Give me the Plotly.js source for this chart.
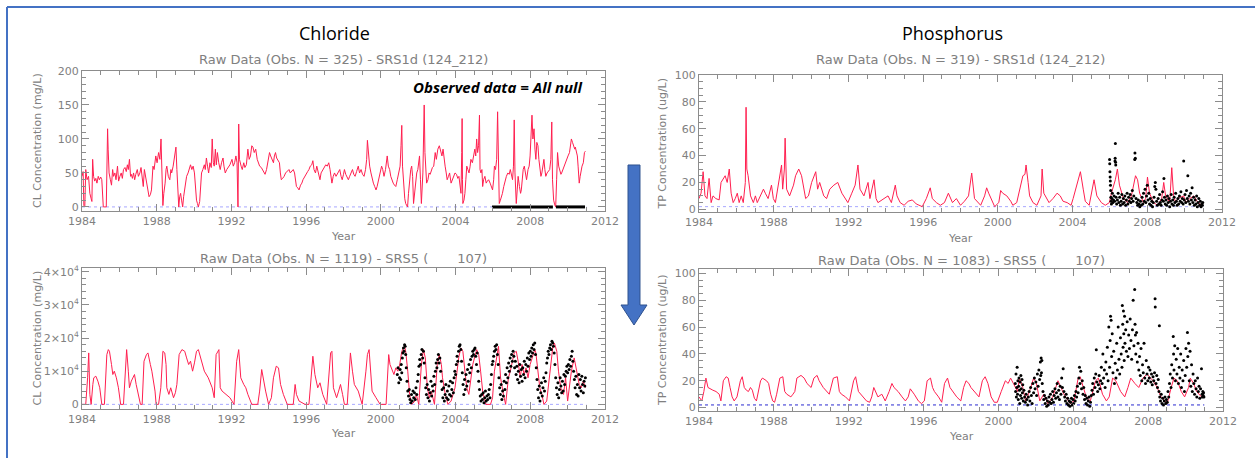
<!DOCTYPE html>
<html>
<head>
<meta charset="utf-8">
<script src="https://cdn.plot.ly/plotly-3.0.1.min.js"></script>
<style>html,body{margin:0;padding:0;background:#fff;}#chart{width:1255px;height:458px;}</style>
</head>
<body>
<div id="chart"></div>
<script>
// ---------------- DATA ----------------
const yearTicks = [1984, 1988, 1992, 1996, 2000, 2004, 2008, 2012];
const clSrs5TickVals = [0, 10000, 20000, 30000, 40000];
const clSrs5TickText = ['0', '1×10<sup>4</sup>', '2×10<sup>4</sup>', '3×10<sup>4</sup>', '4×10<sup>4</sup>'];
const refLineYears = [1984, 2011];
const clDetectLimit = 0;
const tpDetectLimit = 2;

const panelTitles = ['Chloride', 'Phosphorus'];
const subTitles = [
  'Raw Data (Obs. N = 325) - SRS1d (124_212)',
  'Raw Data (Obs. N = 1119) - SRS5 (\u00a0\u00a0\u00a0\u00a0\u00a0\u00a0\u00a0107)',
  'Raw Data (Obs. N = 319) - SRS1d (124_212)',
  'Raw Data (Obs. N = 1083) - SRS5 (\u00a0\u00a0\u00a0\u00a0\u00a0\u00a0\u00a0107)'
];
const yTitles = ['CL Concentration (mg/L)', 'TP Concentration (ug/L)'];
const xTitle = 'Year';
const nullNote = 'Observed data = All null';

// Chloride SRS1d simulated (red) [year, mg/L]
const clSrs1dSim = [
[1984.00,45],[1984.06,52],[1984.10,2],[1984.15,0],[1984.20,55],[1984.27,40],[1984.35,45],[1984.42,20],[1984.49,12],[1984.53,8],
[1984.57,70],[1984.62,45],[1984.68,38],[1984.74,42],[1984.80,35],[1984.87,45],[1984.93,40],[1985.00,44],[1985.06,40],[1985.10,5],
[1985.14,0],[1985.30,0],[1985.35,80],[1985.37,115],[1985.40,85],[1985.45,50],[1985.52,40],[1985.58,32],[1985.64,55],[1985.69,45],
[1985.76,50],[1985.82,40],[1985.90,60],[1985.96,38],[1986.03,45],[1986.10,50],[1986.16,42],[1986.22,55],[1986.30,58],[1986.37,52],
[1986.43,62],[1986.48,55],[1986.54,70],[1986.60,45],[1986.64,48],[1986.70,42],[1986.76,50],[1986.82,40],[1986.88,48],[1986.96,55],
[1987.02,45],[1987.10,50],[1987.16,58],[1987.22,45],[1987.28,30],[1987.34,55],[1987.40,45],[1987.46,35],[1987.49,25],[1987.55,20],
[1987.59,15],[1987.66,18],[1987.72,25],[1987.80,60],[1987.86,55],[1987.95,75],[1988.02,65],[1988.10,80],[1988.17,70],[1988.23,100],
[1988.28,40],[1988.33,2],[1988.38,20],[1988.45,35],[1988.50,55],[1988.54,60],[1988.62,45],[1988.70,40],[1988.76,55],[1988.80,50],
[1988.88,60],[1988.97,75],[1989.03,88],[1989.08,55],[1989.13,30],[1989.18,0],[1989.23,15],[1989.28,20],[1989.33,10],[1989.39,0],
[1989.44,15],[1989.49,25],[1989.55,35],[1989.60,45],[1989.68,50],[1989.75,58],[1989.81,62],[1989.88,55],[1989.95,60],[1990.02,50],
[1990.07,30],[1990.13,10],[1990.18,5],[1990.23,0],[1990.30,8],[1990.35,30],[1990.40,50],[1990.47,55],[1990.55,62],[1990.60,55],
[1990.66,72],[1990.72,60],[1990.78,50],[1990.85,65],[1990.92,58],[1990.97,100],[1991.03,65],[1991.08,60],[1991.14,85],[1991.19,62],
[1991.25,80],[1991.32,65],[1991.40,55],[1991.47,65],[1991.55,72],[1991.60,60],[1991.67,50],[1991.75,55],[1991.83,58],[1991.92,62],
[1992.03,70],[1992.10,60],[1992.17,65],[1992.24,75],[1992.30,65],[1992.35,0],[1992.39,122],[1992.43,70],[1992.52,60],[1992.58,55],
[1992.66,65],[1992.72,58],[1992.80,62],[1992.88,85],[1992.95,70],[1993.02,75],[1993.09,90],[1993.15,88],[1993.22,80],[1993.30,85],
[1993.38,70],[1993.45,65],[1993.51,60],[1993.60,58],[1993.66,55],[1993.72,50],[1993.80,48],[1993.88,55],[1993.96,65],[1994.04,80],
[1994.10,75],[1994.18,70],[1994.25,65],[1994.30,75],[1994.36,80],[1994.42,72],[1994.50,68],[1994.57,65],[1994.62,50],[1994.67,40],
[1994.74,42],[1994.82,45],[1994.90,50],[1994.99,52],[1995.08,55],[1995.15,50],[1995.22,52],[1995.31,55],[1995.38,50],[1995.43,40],
[1995.48,30],[1995.55,28],[1995.62,25],[1995.70,32],[1995.77,35],[1995.83,40],[1995.92,45],[1996.00,48],[1996.08,52],[1996.15,55],
[1996.22,60],[1996.30,62],[1996.36,68],[1996.42,55],[1996.50,50],[1996.57,60],[1996.63,52],[1996.70,45],[1996.74,40],[1996.80,50],
[1996.89,55],[1996.97,58],[1997.05,62],[1997.13,60],[1997.21,65],[1997.28,55],[1997.33,45],[1997.38,35],[1997.45,45],[1997.52,50],
[1997.60,45],[1997.67,48],[1997.74,52],[1997.80,55],[1997.87,45],[1997.93,40],[1998.00,48],[1998.05,55],[1998.12,48],[1998.20,42],
[1998.26,40],[1998.33,45],[1998.40,50],[1998.48,55],[1998.55,48],[1998.62,45],[1998.70,52],[1998.79,60],[1998.86,50],[1998.94,55],
[1999.02,48],[1999.10,45],[1999.18,55],[1999.24,70],[1999.28,98],[1999.33,75],[1999.40,60],[1999.47,50],[1999.53,40],[1999.60,35],
[1999.67,30],[1999.74,25],[1999.80,30],[1999.88,40],[1999.96,50],[2000.04,60],[2000.10,55],[2000.17,45],[2000.25,55],[2000.30,65],
[2000.34,75],[2000.40,60],[2000.47,55],[2000.53,45],[2000.59,40],[2000.66,35],[2000.73,32],[2000.80,30],[2000.88,40],[2000.95,50],
[2001.03,60],[2001.08,90],[2001.12,120],[2001.16,60],[2001.22,30],[2001.28,12],[2001.33,5],[2001.38,2],[2001.43,0],[2001.48,20],
[2001.54,40],[2001.60,55],[2001.65,60],[2001.70,45],[2001.75,5],[2001.80,20],[2001.86,40],[2001.92,50],[2001.98,55],[2002.04,65],
[2002.07,75],[2002.12,40],[2002.17,5],[2002.25,50],[2002.30,100],[2002.32,150],[2002.36,80],[2002.45,35],[2002.52,40],[2002.58,50],
[2002.64,48],[2002.70,55],[2002.76,58],[2002.83,60],[2002.91,80],[2002.97,70],[2003.05,85],[2003.13,90],[2003.20,80],[2003.27,75],
[2003.33,85],[2003.38,70],[2003.44,60],[2003.50,50],[2003.55,40],[2003.62,45],[2003.68,50],[2003.76,35],[2003.83,40],[2003.90,45],
[2003.97,50],[2004.05,48],[2004.12,42],[2004.18,45],[2004.24,30],[2004.29,20],[2004.33,80],[2004.35,130],[2004.37,40],[2004.39,5],
[2004.45,10],[2004.50,20],[2004.55,40],[2004.60,60],[2004.66,55],[2004.72,50],[2004.78,60],[2004.82,70],[2004.90,65],[2004.97,75],
[2005.03,85],[2005.08,75],[2005.13,100],[2005.18,80],[2005.23,90],[2005.28,135],[2005.31,55],[2005.36,50],[2005.41,55],[2005.45,30],
[2005.50,40],[2005.57,45],[2005.64,35],[2005.70,38],[2005.77,40],[2005.85,35],[2005.92,30],[2005.98,25],[2006.04,40],[2006.08,60],
[2006.14,55],[2006.20,70],[2006.25,140],[2006.29,60],[2006.32,20],[2006.34,5],[2006.40,10],[2006.46,15],[2006.51,20],[2006.58,30],
[2006.65,40],[2006.72,45],[2006.80,50],[2006.87,48],[2006.93,55],[2007.00,45],[2007.05,40],[2007.10,60],[2007.14,128],[2007.18,50],
[2007.22,15],[2007.25,5],[2007.30,25],[2007.35,45],[2007.42,30],[2007.48,20],[2007.52,25],[2007.56,45],[2007.62,55],[2007.68,60],
[2007.74,45],[2007.80,40],[2007.88,55],[2007.94,60],[2007.99,75],[2008.04,110],[2008.09,135],[2008.14,100],[2008.20,115],[2008.25,85],
[2008.30,70],[2008.35,95],[2008.41,90],[2008.46,70],[2008.51,55],[2008.57,45],[2008.62,50],[2008.68,60],[2008.73,70],[2008.78,55],
[2008.83,45],[2008.90,50],[2008.97,52],[2009.04,55],[2009.10,70],[2009.15,125],[2009.19,40],[2009.25,10],[2009.31,3],[2009.36,0],
[2009.41,40],[2009.46,80],[2009.52,60],[2009.58,55],[2009.64,48],[2009.68,50],[2009.74,55],[2009.80,60],[2009.89,65],[2009.95,70],
[2010.02,75],[2010.10,80],[2010.15,90],[2010.20,100],[2010.26,95],[2010.32,90],[2010.38,85],[2010.41,88],[2010.46,80],[2010.52,75],
[2010.56,60],[2010.59,45],[2010.62,35],[2010.67,45],[2010.72,55],[2010.77,60],[2010.84,65],[2010.90,80],[2010.95,82]
];
// Chloride SRS1d observed = null, plotted at zero: spans [start, end]
const clSrs1dNullStart = [2005.95, 2009.37];
const clSrs1dNullEnd = [2009.21, 2010.93];

// Chloride SRS5 simulated (red)
const clSrs5Sim = [
[1984.00,0],[1984.20,0],[1984.30,8000],[1984.36,15500],[1984.42,3000],[1984.49,0],[1984.58,6000],[1984.63,8000],[1984.74,8500],[1984.85,7000],
[1984.95,5000],[1985.06,0],[1985.20,0],[1985.28,8000],[1985.33,15000],[1985.41,16500],[1985.47,16000],[1985.58,12000],[1985.65,9000],[1985.73,10000],
[1985.84,8000],[1985.95,5000],[1986.07,0],[1986.22,0],[1986.30,9000],[1986.39,16500],[1986.48,10000],[1986.54,5000],[1986.64,7000],[1986.75,8500],
[1986.81,9000],[1986.90,6000],[1987.00,3000],[1987.13,0],[1987.22,0],[1987.32,13000],[1987.45,15000],[1987.53,15500],[1987.66,12000],[1987.74,10000],
[1987.91,4000],[1987.97,0],[1988.10,0],[1988.22,5000],[1988.33,16000],[1988.43,15500],[1988.50,12000],[1988.54,5000],[1988.65,3000],[1988.75,5000],
[1988.90,2000],[1989.00,3500],[1989.08,6000],[1989.20,15000],[1989.35,16500],[1989.50,16000],[1989.60,14000],[1989.71,12000],[1989.81,13000],[1989.92,10000],
[1990.02,12500],[1990.13,16000],[1990.23,16500],[1990.34,14000],[1990.45,12000],[1990.55,10000],[1990.76,8000],[1990.97,5000],[1991.08,2000],[1991.18,15000],
[1991.33,16500],[1991.40,5000],[1991.50,4000],[1991.71,3000],[1991.92,2000],[1992.14,0],[1992.28,13000],[1992.39,16500],[1992.50,8000],[1992.66,6000],
[1992.77,5000],[1992.88,3000],[1993.09,0],[1993.41,0],[1993.51,4000],[1993.62,10500],[1993.72,7000],[1993.83,4000],[1993.99,0],[1994.14,2000],
[1994.25,8000],[1994.40,11500],[1994.52,11000],[1994.63,6000],[1994.78,3000],[1994.99,0],[1995.31,0],[1995.41,6000],[1995.48,3000],[1995.62,1000],
[1995.94,0],[1996.15,0],[1996.36,14500],[1996.47,9000],[1996.62,5000],[1996.74,6500],[1996.89,3000],[1997.10,0],[1997.31,15500],[1997.38,16000],
[1997.46,5000],[1997.63,2000],[1997.74,4000],[1997.84,6000],[1997.95,3000],[1998.05,0],[1998.20,0],[1998.37,15500],[1998.48,10000],[1998.58,6000],
[1998.79,4000],[1999.00,0],[1999.20,10000],[1999.28,15000],[1999.37,16500],[1999.53,4000],[1999.74,2000],[1999.96,0],[2000.28,0],[2000.42,15000],
[2000.49,12000],[2000.59,10500],[2000.70,9000],[2000.80,11000],[2000.91,10000],[2001.01,12000],[2001.12,16000],[2001.27,17500],[2001.33,16000],[2001.44,10000],
[2001.54,3000],[2001.65,0],[2001.82,1000],[2001.90,3000],[2002.03,0],[2002.17,12000],[2002.28,16500],[2002.38,14000],[2002.49,5000],[2002.60,2000],
[2002.70,4000],[2002.87,0],[2003.02,12000],[2003.13,15000],[2003.24,12000],[2003.30,8000],[2003.45,3000],[2003.59,0],[2003.76,1000],[2003.97,5000],
[2004.07,10000],[2004.18,14500],[2004.29,17000],[2004.39,16000],[2004.50,10000],[2004.60,5000],[2004.71,3000],[2004.92,12000],[2005.13,16500],[2005.24,15000],
[2005.34,10000],[2005.45,4000],[2005.62,0],[2005.87,0],[2005.98,2000],[2006.08,10000],[2006.30,17500],[2006.34,14000],[2006.41,8000],[2006.56,3000],
[2006.68,0],[2006.83,8000],[2006.93,10000],[2007.14,15500],[2007.25,16000],[2007.35,13000],[2007.46,8000],[2007.56,12000],[2007.67,9000],[2007.77,11000],
[2007.88,8000],[2007.99,12000],[2008.15,15000],[2008.24,16500],[2008.30,15500],[2008.41,9000],[2008.51,5000],[2008.62,3000],[2008.73,0],[2008.88,1000],
[2009.04,10000],[2009.21,17500],[2009.29,18500],[2009.42,16000],[2009.51,10000],[2009.63,5000],[2009.78,3000],[2009.89,8000],[2010.00,1000],[2010.10,5000],
[2010.20,10000],[2010.35,14000],[2010.48,10000],[2010.56,8000],[2010.62,6000],[2010.73,5000],[2010.84,7000],[2010.95,5000]
];

// Chloride SRS5 observed (black)
const clSrs5Obs = [
[2000.88,9000],[2000.92,11000],[2000.96,6500],
[2001.00,8000],[2001.03,10500],[2001.06,7500],[2001.09,12000],[2001.12,9500],[2001.15,14000],[2001.18,15500],[2001.21,17000],[2001.24,16000],[2001.27,18000],
[2001.30,17500],[2001.33,15000],[2001.36,11000],[2001.40,7000],[2001.44,4000],[2001.48,2500],[2001.52,4500],[2001.56,1500],[2001.60,500],[2001.64,3000],
[2001.68,1000],[2001.72,4000],[2001.76,2000],[2001.80,3500],[2001.84,1500],[2001.88,5000],[2001.92,3000],[2001.96,7000],
[2002.00,9000],[2002.04,11500],[2002.08,13500],[2002.12,12000],[2002.16,15000],[2002.20,16500],[2002.24,14000],[2002.28,16000],[2002.32,12500],[2002.36,8000],
[2002.40,5000],[2002.44,3000],[2002.48,6000],[2002.52,2000],[2002.56,4500],[2002.60,1000],[2002.64,3500],[2002.68,7000],[2002.72,2500],[2002.76,5500],
[2002.80,4000],[2002.84,8500],[2002.88,6000],[2002.92,10000],[2002.96,12500],
[2003.00,11000],[2003.04,13500],[2003.08,15000],[2003.12,12500],[2003.16,14000],[2003.20,10000],[2003.24,7000],[2003.28,4500],[2003.32,2000],[2003.36,5000],
[2003.40,1000],[2003.44,3000],[2003.48,6000],[2003.52,2000],[2003.56,4000],[2003.60,1500],[2003.64,5500],[2003.68,3000],[2003.72,7000],[2003.76,2500],
[2003.80,4500],[2003.84,6500],[2003.88,3500],[2003.92,8000],[2003.96,10000],
[2004.00,9000],[2004.04,12000],[2004.08,14500],[2004.12,13000],[2004.16,16000],[2004.20,17500],[2004.24,18000],[2004.28,16500],[2004.32,13000],[2004.36,9500],
[2004.40,6000],[2004.44,3000],[2004.48,7500],[2004.52,4500],[2004.56,9000],[2004.60,5500],[2004.64,10500],[2004.68,7000],[2004.72,12000],[2004.76,9500],
[2004.80,13500],[2004.84,11000],[2004.88,14500],[2004.92,16000],[2004.96,15000],
[2005.00,16500],[2005.04,17000],[2005.08,14500],[2005.12,12000],[2005.16,15500],[2005.20,10000],[2005.24,7000],[2005.28,4500],[2005.32,2500],[2005.36,1000],
[2005.40,3000],[2005.44,1500],[2005.48,3500],[2005.52,500],[2005.56,2000],[2005.60,4000],[2005.64,1000],[2005.68,2500],[2005.72,1500],[2005.76,3000],
[2005.80,4500],[2005.84,2000],[2005.88,6000],[2005.92,9000],[2005.96,12000],
[2006.00,13000],[2006.04,14500],[2006.08,16000],[2006.12,17500],[2006.16,16500],[2006.20,18000],[2006.24,15000],[2006.28,12000],[2006.32,8000],[2006.36,5000],
[2006.40,3000],[2006.44,6000],[2006.48,1500],[2006.52,4000],[2006.56,2500],[2006.60,7000],[2006.64,4500],[2006.68,9000],[2006.72,6500],[2006.76,11000],
[2006.80,8000],[2006.84,12500],[2006.88,10000],[2006.92,14000],[2006.96,11500],
[2007.00,15000],[2007.04,13000],[2007.08,16000],[2007.12,14500],[2007.16,11000],[2007.20,13000],[2007.24,9000],[2007.28,11500],[2007.32,7500],[2007.36,10000],
[2007.40,6500],[2007.44,12000],[2007.48,8500],[2007.52,10500],[2007.56,7000],[2007.60,11000],[2007.64,9000],[2007.68,13000],[2007.72,8000],[2007.76,12000],
[2007.80,10000],[2007.84,14000],[2007.88,11500],[2007.92,15500],[2007.96,13500],
[2008.00,16000],[2008.04,14500],[2008.08,17000],[2008.12,15500],[2008.16,18000],[2008.20,16500],[2008.24,18500],[2008.28,15000],[2008.32,11000],[2008.36,7500],
[2008.40,4500],[2008.44,2000],[2008.48,5500],[2008.52,1000],[2008.56,3500],[2008.60,6500],[2008.64,2500],[2008.68,5000],[2008.72,8000],[2008.76,4000],
[2008.80,7000],[2008.84,9500],[2008.88,12500],[2008.92,14000],[2008.96,16000],
[2009.00,15000],[2009.04,17000],[2009.08,18000],[2009.12,16500],[2009.16,19000],[2009.20,18500],[2009.24,17500],[2009.28,15500],[2009.32,12000],[2009.36,8000],
[2009.40,5000],[2009.44,3000],[2009.48,6500],[2009.52,2000],[2009.56,4500],[2009.60,8000],[2009.64,5500],[2009.68,3500],[2009.72,7000],[2009.76,4000],
[2009.80,9000],[2009.84,6000],[2009.88,8500],[2009.92,10000],[2009.96,11500],
[2010.00,9500],[2010.04,12000],[2010.08,10500],[2010.12,13500],[2010.16,11500],[2010.20,14500],[2010.24,16000],[2010.28,13000],[2010.32,10000],[2010.36,7500],
[2010.40,5000],[2010.44,8500],[2010.48,3000],[2010.52,6000],[2010.56,2500],[2010.60,9000],[2010.64,5000],[2010.68,7500],[2010.72,4000],[2010.76,8500],
[2010.80,6000],[2010.84,3500],[2010.88,7000],[2010.92,5500],[2010.95,8000]
];

// Phosphorus SRS1d simulated (red) [year, ug/L]
const tpSrs1dSim = [
[1984.00,8],[1984.11,12],[1984.22,28],[1984.32,10],[1984.43,8],[1984.54,23],[1984.65,5],[1984.75,10],[1984.90,8],[1985.08,7],
[1985.18,20],[1985.40,25],[1985.51,20],[1985.62,30],[1985.72,12],[1985.83,5],[1985.94,8],[1986.05,12],[1986.15,5],[1986.26,10],
[1986.37,5],[1986.48,20],[1986.52,76],[1986.56,30],[1986.63,25],[1986.76,10],[1986.91,5],[1987.02,10],[1987.12,5],[1987.23,8],
[1987.45,15],[1987.55,12],[1987.70,8],[1987.88,18],[1987.98,8],[1988.09,5],[1988.31,22],[1988.42,33],[1988.48,15],[1988.57,30],
[1988.61,53],[1988.65,20],[1988.69,15],[1988.85,10],[1989.06,18],[1989.17,25],[1989.34,30],[1989.49,25],[1989.60,15],[1989.71,8],
[1989.86,10],[1990.03,20],[1990.25,28],[1990.35,15],[1990.46,20],[1990.68,10],[1990.83,8],[1991.00,15],[1991.22,18],[1991.43,20],
[1991.65,12],[1991.86,8],[1991.97,5],[1992.18,12],[1992.36,18],[1992.51,33],[1992.62,15],[1992.83,10],[1993.05,20],[1993.15,8],
[1993.37,22],[1993.48,8],[1993.58,5],[1993.69,6],[1993.91,8],[1994.12,10],[1994.30,5],[1994.51,18],[1994.60,10],[1994.77,5],
[1994.98,3],[1995.20,6],[1995.42,7],[1995.63,4],[1995.95,2],[1996.06,5],[1996.17,8],[1996.38,16],[1996.49,8],[1996.71,5],
[1996.92,3],[1997.14,5],[1997.35,12],[1997.57,5],[1997.78,8],[1998.00,3],[1998.21,6],[1998.43,10],[1998.60,27],[1998.75,8],
[1998.97,5],[1999.08,3],[1999.29,10],[1999.40,16],[1999.51,12],[1999.72,5],[1999.83,2],[2000.05,5],[2000.15,14],[2000.26,12],
[2000.48,10],[2000.69,6],[2000.80,3],[2001.01,5],[2001.23,18],[2001.34,25],[2001.45,26],[2001.51,33],[2001.62,20],[2001.70,10],
[2001.88,5],[2002.09,3],[2002.31,10],[2002.37,30],[2002.46,12],[2002.74,5],[2002.95,8],[2003.17,12],[2003.34,10],[2003.49,6],
[2003.71,5],[2003.92,3],[2004.03,8],[2004.25,20],[2004.42,28],[2004.57,15],[2004.68,6],[2004.89,3],[2005.00,10],[2005.15,22],
[2005.30,10],[2005.54,5],[2005.75,3],[2005.97,5],[2006.08,12],[2006.29,22],[2006.40,30],[2006.51,18],[2006.72,8],[2006.94,5],
[2007.15,10],[2007.30,22],[2007.37,25],[2007.48,22],[2007.59,12],[2007.80,5],[2007.91,8],[2008.01,24],[2008.12,12],[2008.34,5],
[2008.55,3],[2008.77,8],[2008.88,20],[2008.98,10],[2009.20,5],[2009.31,31],[2009.41,10],[2009.52,5],[2009.63,8],[2009.95,10],
[2010.06,5],[2010.28,8],[2010.49,10],[2010.71,5],[2010.92,3]
];

// Phosphorus SRS1d observed (black)
const tpSrs1dObs = [
[2005.98,37],[2005.99,34],[2006.00,28],[2006.01,24],[2006.02,21],[2006.03,18],[2006.04,14],[2006.05,9],[2006.06,6],[2006.08,4],
[2006.10,8],[2006.13,12],[2006.16,5],[2006.19,7],[2006.22,10],[2006.25,6],[2006.27,36],[2006.28,38],[2006.29,49],[2006.30,35],
[2006.31,33],[2006.33,9],[2006.36,4],[2006.40,7],[2006.44,12],[2006.48,5],[2006.52,9],[2006.56,3],[2006.60,6],[2006.64,11],
[2006.68,4],[2006.72,8],[2006.76,5],[2006.80,10],[2006.84,3],[2006.88,7],[2006.92,12],[2006.96,4],[2007.00,9],[2007.04,6],
[2007.08,11],[2007.12,5],[2007.16,8],[2007.20,14],[2007.24,6],[2007.28,10],[2007.33,37],[2007.34,42],[2007.36,38],[2007.40,8],
[2007.44,5],[2007.48,3],[2007.52,7],[2007.56,4],[2007.60,2],[2007.64,6],[2007.68,3],[2007.72,9],[2007.76,4],[2007.80,12],
[2007.84,6],[2007.88,15],[2007.92,5],[2007.96,10],[2008.00,18],[2008.04,7],[2008.08,12],[2008.12,4],[2008.16,8],[2008.20,3],
[2008.24,6],[2008.28,2],[2008.32,5],[2008.36,9],[2008.40,17],[2008.43,20],[2008.46,15],[2008.50,6],[2008.54,3],[2008.58,8],
[2008.62,4],[2008.66,11],[2008.70,5],[2008.74,3],[2008.78,7],[2008.82,13],[2008.86,6],[2008.89,23],[2008.92,9],[2008.96,4],
[2009.00,7],[2009.04,3],[2009.08,10],[2009.12,5],[2009.16,8],[2009.20,2],[2009.24,6],[2009.28,11],[2009.32,4],[2009.36,7],
[2009.40,3],[2009.44,9],[2009.48,5],[2009.52,12],[2009.56,6],[2009.60,3],[2009.64,8],[2009.68,4],[2009.72,10],[2009.76,6],
[2009.80,13],[2009.84,5],[2009.88,8],[2009.92,4],[2009.95,36],[2009.98,7],[2010.02,11],[2010.06,5],[2010.10,14],[2010.14,8],
[2010.17,25],[2010.20,6],[2010.24,10],[2010.28,4],[2010.32,12],[2010.36,7],[2010.40,16],[2010.44,5],[2010.48,9],[2010.52,3],
[2010.56,7],[2010.60,4],[2010.64,10],[2010.68,2],[2010.72,5],[2010.76,8],[2010.80,3],[2010.84,6],[2010.88,2],[2010.92,4],
[2010.95,3],[2010.97,5]
];

// Phosphorus SRS5 simulated (red)
const tpSrs5Sim = [
[1984.00,8],[1984.15,5],[1984.26,12],[1984.37,22],[1984.48,15],[1984.58,14],[1984.74,13],[1984.91,12],[1985.08,10],[1985.17,5],
[1985.30,20],[1985.45,23],[1985.56,22],[1985.66,15],[1985.77,8],[1985.88,5],[1986.03,8],[1986.21,20],[1986.31,23],[1986.42,15],
[1986.53,13],[1986.64,12],[1986.75,15],[1986.85,13],[1986.96,7],[1987.07,5],[1987.18,12],[1987.29,20],[1987.39,22],[1987.61,20],
[1987.72,18],[1987.83,10],[1987.94,5],[1988.04,4],[1988.15,10],[1988.32,22],[1988.48,23],[1988.58,12],[1988.69,10],[1988.91,8],
[1989.02,10],[1989.12,12],[1989.23,22],[1989.45,24],[1989.62,22],[1989.77,18],[1989.99,15],[1990.14,22],[1990.31,24],[1990.42,20],
[1990.64,15],[1990.85,12],[1990.96,10],[1991.18,22],[1991.39,23],[1991.50,12],[1991.61,10],[1991.83,8],[1992.04,5],[1992.26,20],
[1992.37,23],[1992.52,12],[1992.65,10],[1992.80,8],[1992.95,5],[1993.12,4],[1993.23,8],[1993.34,15],[1993.45,12],[1993.56,8],
[1993.77,10],[1993.95,5],[1994.16,12],[1994.31,18],[1994.42,15],[1994.64,12],[1994.85,8],[1995.03,5],[1995.18,8],[1995.29,14],
[1995.50,10],[1995.72,5],[1995.89,3],[1996.04,5],[1996.19,20],[1996.37,22],[1996.48,15],[1996.58,12],[1996.80,8],[1996.97,4],
[1997.12,18],[1997.28,22],[1997.41,15],[1997.56,12],[1997.77,8],[1997.99,5],[1998.14,15],[1998.27,20],[1998.42,18],[1998.53,15],
[1998.70,12],[1998.96,8],[1999.14,20],[1999.29,23],[1999.44,18],[1999.61,8],[1999.78,4],[1999.94,4],[2000.15,12],[2000.37,20],
[2000.52,18],[2000.65,22],[2000.80,18],[2001.02,12],[2001.12,22],[2001.30,15],[2001.45,5],[2001.66,12],[2001.88,22],[2002.03,18],
[2002.21,5],[2002.42,10],[2002.64,3],[2002.90,8],[2003.18,20],[2003.33,15],[2003.50,10],[2003.83,3],[2004.04,5],[2004.26,22],
[2004.37,23],[2004.54,15],[2004.69,8],[2004.91,5],[2005.19,20],[2005.34,22],[2005.56,10],[2005.77,5],[2005.92,8],[2006.10,22],
[2006.27,20],[2006.53,12],[2006.75,8],[2006.92,15],[2007.07,22],[2007.29,18],[2007.50,15],[2007.72,22],[2007.94,25],[2008.26,20],
[2008.48,15],[2008.69,8],[2008.86,5],[2009.02,3],[2009.23,15],[2009.38,22],[2009.56,20],[2009.77,12],[2009.95,8],[2010.16,15],
[2010.25,22],[2010.43,18],[2010.59,12],[2010.75,10],[2010.85,8],[2010.96,9]
];

// Phosphorus SRS5 observed (black)
const tpSrs5Obs = [
[2000.90,18],[2000.92,12],[2000.94,25],[2000.96,8],[2000.98,15],[2001.00,30],[2001.02,10],[2001.04,20],[2001.06,6],[2001.08,16],
[2001.10,22],[2001.12,13],[2001.14,3],[2001.16,19],[2001.18,9],[2001.20,24],[2001.22,14],[2001.24,7],[2001.26,21],[2001.28,11],
[2001.30,17],[2001.33,5],[2001.36,13],[2001.40,8],[2001.44,4],[2001.48,10],[2001.52,6],[2001.56,2],[2001.60,8],[2001.64,12],
[2001.68,5],[2001.72,15],[2001.76,9],[2001.80,3],[2001.84,18],[2001.88,11],[2001.92,22],[2001.96,14],[2002.00,19],[2002.04,9],
[2002.08,25],[2002.12,16],[2002.16,28],[2002.20,21],[2002.24,34],[2002.26,24],[2002.28,37],[2002.30,26],[2002.32,35],[2002.34,18],
[2002.38,12],[2002.42,6],[2002.46,9],[2002.50,3],[2002.54,7],[2002.58,1],[2002.62,5],[2002.66,2],[2002.70,8],[2002.74,4],
[2002.78,10],[2002.82,3],[2002.86,6],[2002.90,12],[2002.94,4],[2002.98,9],[2003.02,14],[2003.06,7],[2003.10,11],[2003.14,18],
[2003.18,8],[2003.22,13],[2003.26,6],[2003.30,16],[2003.34,10],[2003.38,22],[2003.42,15],[2003.46,29],[2003.50,12],[2003.54,8],
[2003.58,5],[2003.62,10],[2003.66,3],[2003.70,7],[2003.74,2],[2003.78,5],[2003.82,1],[2003.86,4],[2003.90,7],[2003.94,2],
[2003.98,6],[2004.02,3],[2004.06,9],[2004.10,5],[2004.14,12],[2004.18,8],[2004.22,16],[2004.26,11],[2004.30,22],[2004.33,30],
[2004.36,18],[2004.40,27],[2004.44,14],[2004.48,20],[2004.52,10],[2004.56,15],[2004.60,6],[2004.64,9],[2004.68,3],[2004.72,7],
[2004.76,2],[2004.80,5],[2004.84,8],[2004.88,1],[2004.92,4],[2004.96,9],[2005.00,13],[2005.04,18],[2005.08,10],[2005.12,22],
[2005.16,15],[2005.20,25],[2005.23,43],[2005.26,19],[2005.30,12],[2005.34,17],[2005.38,24],[2005.42,14],[2005.46,20],[2005.50,30],
[2005.54,18],[2005.58,40],[2005.62,22],[2005.66,28],[2005.70,15],[2005.74,34],[2005.78,25],[2005.82,45],[2005.86,20],[2005.90,60],
[2005.94,30],[2005.97,50],[2005.99,68],[2006.02,65],[2006.05,38],[2006.08,55],[2006.12,26],[2006.16,42],[2006.20,18],[2006.24,33],
[2006.28,22],[2006.32,48],[2006.36,28],[2006.40,60],[2006.44,36],[2006.48,25],[2006.52,52],[2006.56,40],[2006.60,30],[2006.62,76],
[2006.64,62],[2006.66,45],[2006.68,72],[2006.70,55],[2006.72,35],[2006.74,68],[2006.76,48],[2006.80,58],[2006.84,42],[2006.88,64],
[2006.92,38],[2006.96,54],[2007.00,44],[2007.04,66],[2007.08,50],[2007.12,36],[2007.16,58],[2007.20,80],[2007.24,46],[2007.28,88],
[2007.30,62],[2007.32,54],[2007.34,40],[2007.38,56],[2007.42,34],[2007.46,48],[2007.50,28],[2007.54,38],[2007.58,24],[2007.62,44],
[2007.66,20],[2007.70,32],[2007.74,26],[2007.78,48],[2007.82,22],[2007.86,18],[2007.90,35],[2007.94,25],[2007.98,20],[2008.02,30],
[2008.06,22],[2008.10,28],[2008.14,19],[2008.18,25],[2008.22,17],[2008.26,23],[2008.30,20],[2008.34,26],[2008.37,81],[2008.38,75],
[2008.42,18],[2008.46,24],[2008.50,15],[2008.54,21],[2008.58,12],[2008.60,61],[2008.62,8],[2008.66,5],[2008.70,10],[2008.74,3],
[2008.78,7],[2008.82,2],[2008.86,5],[2008.90,8],[2008.94,3],[2008.98,6],[2009.02,4],[2009.06,12],[2009.10,8],[2009.14,18],
[2009.18,25],[2009.22,15],[2009.26,32],[2009.30,22],[2009.34,53],[2009.36,40],[2009.38,28],[2009.42,46],[2009.46,20],[2009.50,36],
[2009.54,25],[2009.58,44],[2009.62,18],[2009.66,30],[2009.70,22],[2009.74,40],[2009.78,15],[2009.82,28],[2009.86,20],[2009.90,35],
[2009.94,12],[2009.98,24],[2010.02,44],[2010.06,30],[2010.10,56],[2010.12,38],[2010.16,48],[2010.20,20],[2010.24,42],[2010.28,16],
[2010.32,32],[2010.36,12],[2010.40,25],[2010.44,18],[2010.48,10],[2010.52,20],[2010.56,14],[2010.60,8],[2010.64,22],[2010.68,12],
[2010.72,16],[2010.76,7],[2010.80,14],[2010.85,29],[2010.88,10],[2010.90,8],[2010.92,12],[2010.94,9],[2010.96,11],[2010.98,8]
];

// ---------------- LAYOUT HELPERS ----------------
const W = 1255, H = 458;
const fx = px => px / W;
const fy = py => 1 - py / H;
const RED = '#ff1f4f';
const GREY = '#808080';
const AX = '#8c8c8c';
const IDLFONT = 'DejaVu Sans';

// panel boxes in pixels [left, right], [top, bottom]
const boxes = [
  {x:[82,605], y:[71,211]},
  {x:[82,605], y:[268,409]},
  {x:[699,1222], y:[75,212]},
  {x:[699,1223], y:[269,411]}
];

const xs = p => p.map(d => d[0]);
const ys = p => p.map(d => d[1]);

function xAxisDef(b, anchor) {
  return {
    domain:[fx(b.x[0]), fx(b.x[1])], anchor: anchor, range:[1984, 2012],
    tickmode:'array', tickvals: yearTicks, ticktext: yearTicks.map(String),
    ticks:'inside', ticklen:7, tickwidth:1, tickcolor:AX,
    showline:true, linecolor:AX, linewidth:1, mirror:'allticks',
    showgrid:false, zeroline:false,
    tickfont:{family:IDLFONT, size:11, color:GREY},
    minor:{tickmode:'linear', tick0:1984, dtick:1, ticks:'inside', ticklen:4, tickcolor:AX, showgrid:false}
  };
}
function yAxisDef(b, anchor, range, dtick, minorD, extra) {
  const a = {
    domain:[fy(b.y[1]), fy(b.y[0])], anchor: anchor, range: range,
    tickmode:'linear', tick0:0, dtick: dtick,
    ticks:'inside', ticklen:7, tickwidth:1, tickcolor:AX,
    showline:true, linecolor:AX, linewidth:1, mirror:'allticks',
    showgrid:false, zeroline:false,
    tickfont:{family:IDLFONT, size:11, color:GREY},
    minor:{tickmode:'linear', tick0:0, dtick:minorD, ticks:'inside', ticklen:4, tickcolor:AX, showgrid:false}
  };
  return Object.assign(a, extra || {});
}

// ---------------- TRACES ----------------
function refLine(xa, ya, val, color, dash) {
  return {x: refLineYears, y: refLineYears.map(() => val), xaxis:xa, yaxis:ya, mode:'lines',
          line:{color:color, width:1, dash:dash}, hoverinfo:'skip'};
}
function simLine(data, xa, ya) {
  return {x: xs(data), y: ys(data), xaxis:xa, yaxis:ya, mode:'lines', line:{color:RED, width:1}, hoverinfo:'skip'};
}
function obsPts(data, xa, ya) {
  return {x: xs(data), y: ys(data), xaxis:xa, yaxis:ya, mode:'markers',
          marker:{color:'#000', size:3, line:{width:0}}, hoverinfo:'skip'};
}
const nullX = [], nullY = [];
clSrs1dNullStart.forEach((s, i) => { nullX.push(s, clSrs1dNullEnd[i], null); nullY.push(0, 0, null); });

const traces = [
  refLine('x', 'y', clDetectLimit, '#a8a8ff', 'dot'),
  simLine(clSrs1dSim, 'x', 'y'),
  {x: nullX, y: nullY, xaxis:'x', yaxis:'y', mode:'lines', line:{color:'#000', width:3}, hoverinfo:'skip'},

  refLine('x2', 'y2', clDetectLimit, '#a8a8ff', 'dot'),
  simLine(clSrs5Sim, 'x2', 'y2'),
  obsPts(clSrs5Obs, 'x2', 'y2'),

  refLine('x3', 'y3', tpDetectLimit, '#a8a8ff', 'dot'),
  simLine(tpSrs1dSim, 'x3', 'y3'),
  obsPts(tpSrs1dObs, 'x3', 'y3'),

  refLine('x4', 'y4', tpDetectLimit, '#2b2bd0', 'dot'),
  simLine(tpSrs5Sim, 'x4', 'y4'),
  obsPts(tpSrs5Obs, 'x4', 'y4')
];

// ---------------- ANNOTATIONS ----------------
function txt(text, px, py, size, opts) {
  return Object.assign({text: text, x: fx(px), y: fy(py), xref:'paper', yref:'paper',
    showarrow:false, xanchor:'center', yanchor:'middle',
    font:{family:IDLFONT, size:size, color:GREY}}, opts || {});
}
const cx = b => (b.x[0] + b.x[1]) / 2;
const cy = b => (b.y[0] + b.y[1]) / 2;

const annotations = [
  txt(panelTitles[0], 334, 33, 18, {font:{family:'Open Sans', size:18, color:'#000'}}),
  txt(panelTitles[1], 952, 33, 18, {font:{family:'Open Sans', size:18, color:'#000'}}),
  txt(subTitles[0], cx(boxes[0]), 60, 13),
  txt(subTitles[1], cx(boxes[1]), 258, 13),
  txt(subTitles[2], cx(boxes[2]), 60, 13),
  txt(subTitles[3], cx(boxes[3]), 260, 13),
  txt(xTitle, cx(boxes[0]), 236, 11),
  txt(xTitle, cx(boxes[1]), 433, 11),
  txt(xTitle, cx(boxes[2]), 238, 11),
  txt(xTitle, cx(boxes[3]), 436, 11),
  txt(yTitles[0], 37, cy(boxes[0]), 11, {textangle:-90}),
  txt(yTitles[0], 37, cy(boxes[1]), 11, {textangle:-90}),
  txt(yTitles[1], 662, cy(boxes[2]), 11, {textangle:-90}),
  txt(yTitles[1], 662, cy(boxes[3]), 11, {textangle:-90}),
  txt('<b><i>' + nullNote + '</i></b>', 585, 87, 15, {xanchor:'right', font:{family:'Open Sans', size:15, color:'#000'}})
];

// ---------------- SHAPES (frame + arrow) ----------------
const P = (px, py) => fx(px).toFixed(5) + ',' + fy(py).toFixed(5);
const arrowPath = 'M' + P(628,165) + ' L' + P(640,165) + ' L' + P(640,305) + ' L' + P(647,305) +
                  ' L' + P(634,325) + ' L' + P(621,305) + ' L' + P(628,305) + ' Z';
const shapes = [
  {type:'line', xref:'paper', yref:'paper', x0:fx(7), y0:fy(7), x1:1.01, y1:fy(7), line:{color:'#4472C4', width:2}},
  {type:'line', xref:'paper', yref:'paper', x0:fx(7), y0:fy(7), x1:fx(7), y1:-0.01, line:{color:'#4472C4', width:2}},
  {type:'path', xref:'paper', yref:'paper', path: arrowPath, fillcolor:'#4472C4', line:{color:'#2F528F', width:1}}
];

const layout = {
  width: W, height: H, margin:{l:0, r:0, t:0, b:0},
  paper_bgcolor:'#fff', plot_bgcolor:'#fff', showlegend:false,
  xaxis: xAxisDef(boxes[0], 'y'),
  yaxis: yAxisDef(boxes[0], 'x', [-6, 200], 50, 10),
  xaxis2: xAxisDef(boxes[1], 'y2'),
  yaxis2: yAxisDef(boxes[1], 'x2', [-1400, 41100], 10000, 2000,
           {tickmode:'array', tickvals: clSrs5TickVals, ticktext: clSrs5TickText}),
  xaxis3: xAxisDef(boxes[2], 'y3'),
  yaxis3: yAxisDef(boxes[2], 'x3', [-2, 100], 20, 5),
  xaxis4: xAxisDef(boxes[3], 'y4'),
  yaxis4: yAxisDef(boxes[3], 'x4', [-2.5, 103.2], 20, 5),
  annotations: annotations,
  shapes: shapes
};

Plotly.newPlot('chart', traces, layout, {staticPlot:true, displayModeBar:false});
</script>
</body>
</html>
